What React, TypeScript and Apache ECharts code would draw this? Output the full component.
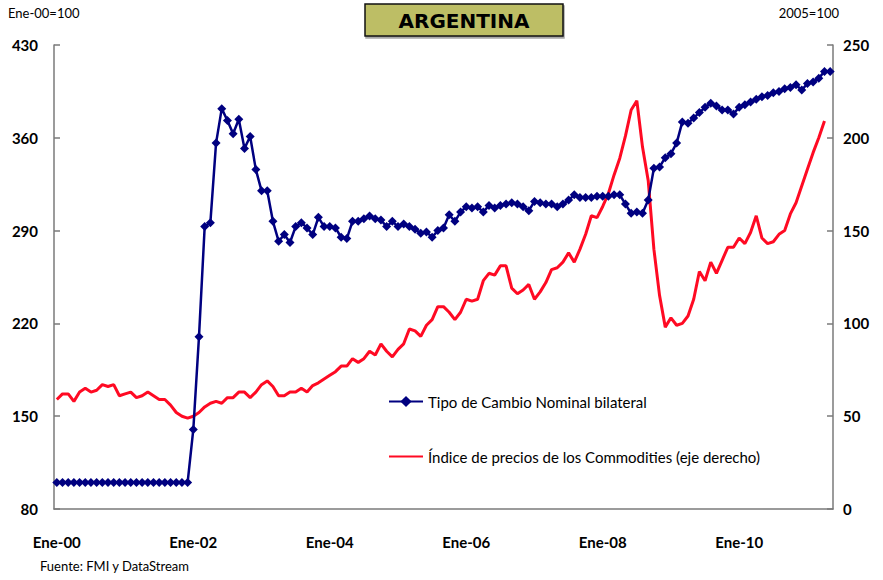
import React, { useEffect, useRef } from "react";
import * as echarts from "echarts";

const monthNames = ["Ene", "Feb", "Mar", "Abr", "May", "Jun", "Jul", "Ago", "Sep", "Oct", "Nov", "Dic"];
const categories: string[] = [];
for (let i = 0; i < 137; i++) {
  const y = Math.floor(i / 12);
  categories.push(monthNames[i % 12] + "-" + String(y).padStart(2, "0"));
}

const tipoCambio = [
  100, 100, 100, 100, 100, 100, 100, 100, 100, 100, 100, 100,
  100, 100, 100, 100, 100, 100, 100, 100, 100, 100, 100, 100,
  140, 210, 293, 296, 356, 382, 373, 363, 374, 352, 361, 336,
  320, 320, 297, 282, 287, 281, 293, 296, 292, 287, 300, 293,
  293, 292, 285, 284, 297, 297, 299, 301, 299, 298, 293, 297,
  293, 295, 293, 291, 288, 289, 285, 290, 292, 302, 297, 304,
  308, 307, 308, 304, 309, 307, 309, 310, 311, 310, 308, 305,
  312, 311, 310, 310, 308, 310, 313, 317, 315, 315, 315, 316,
  316, 316, 317, 317, 310, 303, 304, 303, 313, 337, 338, 345,
  348, 356, 372, 371, 375, 379, 383, 386, 384, 381, 381, 378,
  383, 385, 387, 389, 391, 392, 394, 395, 397, 398, 400, 396,
  401, 402, 405, 410, 410,
];

const commodities = [
  59, 62, 62, 58, 63, 65, 63, 64, 67, 66, 67, 61,
  62, 63, 60, 61, 63, 61, 59, 59, 56, 52, 50, 49,
  50, 52, 55, 57, 58, 57, 60, 60, 63, 63, 60, 63,
  67, 69, 66, 61, 61, 63, 63, 65, 63, 66.5, 68, 70,
  72, 74, 77, 77, 81, 79, 81, 85, 83, 89, 85, 82,
  86, 89, 97, 96, 93, 99, 102, 109, 109, 106, 102, 106,
  113, 112, 113, 123, 127, 126, 131, 131, 119, 116, 118, 121,
  113, 117, 122, 129, 130, 133, 138, 133, 140, 148, 158, 157,
  163, 170, 180, 189, 201, 215, 220, 195, 177, 140, 115, 98,
  103, 99, 100, 104, 113, 128, 123, 133, 127, 134, 141, 141,
  146, 143, 149, 158, 146, 143, 144, 148, 150, 159, 165, 174,
  183, 192, 200, 209, null,
];

const leftTicks = [80, 150, 220, 290, 360, 430];
const seriesNames = ["Tipo de Cambio Nominal bilateral", "Índice de precios de los Commodities (eje derecho)"];

const FONT = "Lato, 'Open Sans', sans-serif";
const AXIS_COLOR = "#7a7a7a";
const RED = "#FF0A23";
const BLUE = "#000080";

export default function App() {
  const ref = useRef<HTMLDivElement>(null);
  useEffect(() => {
    if (!ref.current) return;
    const chart = echarts.init(ref.current, null, { renderer: "svg" });
    chart.setOption({
      animation: false,
      backgroundColor: "#ffffff",
      textStyle: { fontFamily: FONT },
      grid: { left: 54, right: 50, top: 45, bottom: 71, containLabel: false, outerBoundsMode: "none" },
      legend: {
        data: [
          { name: seriesNames[0] },
          { name: seriesNames[1], itemStyle: { opacity: 0 } },
        ],
        orient: "vertical",
        left: 383,
        top: 389,
        itemWidth: 34,
        itemHeight: 14,
        itemGap: 40,
        textStyle: { fontSize: 15, color: "#000", fontFamily: FONT },
      },
      graphic: [
        { type: "text", left: 8, top: 6, style: { text: "Ene-00=100", fontSize: 13, fill: "#000", fontFamily: FONT } },
        { type: "text", right: 44, top: 6, style: { text: "2005=100", fontSize: 13, fill: "#000", fontFamily: FONT } },
        {
          type: "rect",
          shape: { x: 365, y: 4, width: 198, height: 32 },
          style: { fill: "#BDBE65", stroke: "#111", lineWidth: 1.5, shadowColor: "rgba(0,0,0,0.35)", shadowOffsetX: 1, shadowOffsetY: 2, shadowBlur: 1 },
        },
        {
          type: "text",
          x: 464,
          y: 21,
          style: { text: "ARGENTINA", fontSize: 20, fontWeight: "bold", fill: "#000", align: "center", verticalAlign: "middle", fontFamily: "'DejaVu Sans', sans-serif" },
        },
        { type: "text", left: 40, top: 559, style: { text: "Fuente: FMI y DataStream", fontSize: 13, fill: "#000", fontFamily: FONT } },
      ],
      xAxis: {
        type: "category",
        data: categories,
        boundaryGap: true,
        axisLine: { lineStyle: { color: AXIS_COLOR, width: 1.5 } },
        axisTick: { inside: true, length: 5, interval: 23, lineStyle: { color: AXIS_COLOR, width: 1.5 } },
        axisLabel: { interval: 23, margin: 25, fontSize: 15, fontWeight: "bold", color: "#000", fontFamily: FONT },
        splitLine: { show: false },
      },
      yAxis: [
        {
          type: "value",
          min: 80,
          max: 430,
          position: "left",
          axisLine: { show: true, lineStyle: { color: AXIS_COLOR, width: 1.5 } },
          axisTick: { show: true, inside: true, length: 6, customValues: leftTicks, lineStyle: { color: AXIS_COLOR, width: 1.5 } },
          axisLabel: { customValues: leftTicks, margin: 16, fontSize: 15, fontWeight: "bold", color: "#000", fontFamily: FONT },
          splitLine: { show: false },
        },
        {
          type: "value",
          min: 0,
          max: 250,
          interval: 50,
          position: "right",
          axisLine: { show: true, lineStyle: { color: AXIS_COLOR, width: 1.5 } },
          axisTick: { show: true, inside: true, length: 6, lineStyle: { color: AXIS_COLOR, width: 1.5 } },
          axisLabel: { margin: 10, fontSize: 15, fontWeight: "bold", color: "#000", fontFamily: FONT },
          splitLine: { show: false },
        },
      ],
      series: [
        {
          name: seriesNames[0],
          type: "line",
          yAxisIndex: 0,
          data: tipoCambio,
          symbol: "diamond",
          symbolSize: 9,
          showAllSymbol: true,
          itemStyle: { color: BLUE },
          lineStyle: { color: BLUE, width: 2.5 },
          z: 3,
        },
        {
          name: seriesNames[1],
          type: "line",
          yAxisIndex: 1,
          data: commodities,
          symbol: "none",
          itemStyle: { color: RED },
          lineStyle: { color: RED, width: 3 },
          z: 2,
        },
      ],
    });
    return () => chart.dispose();
  }, []);
  return <div ref={ref} style={{ position: "absolute", left: 0, top: 0, width: 883, height: 580 }} />;
}
